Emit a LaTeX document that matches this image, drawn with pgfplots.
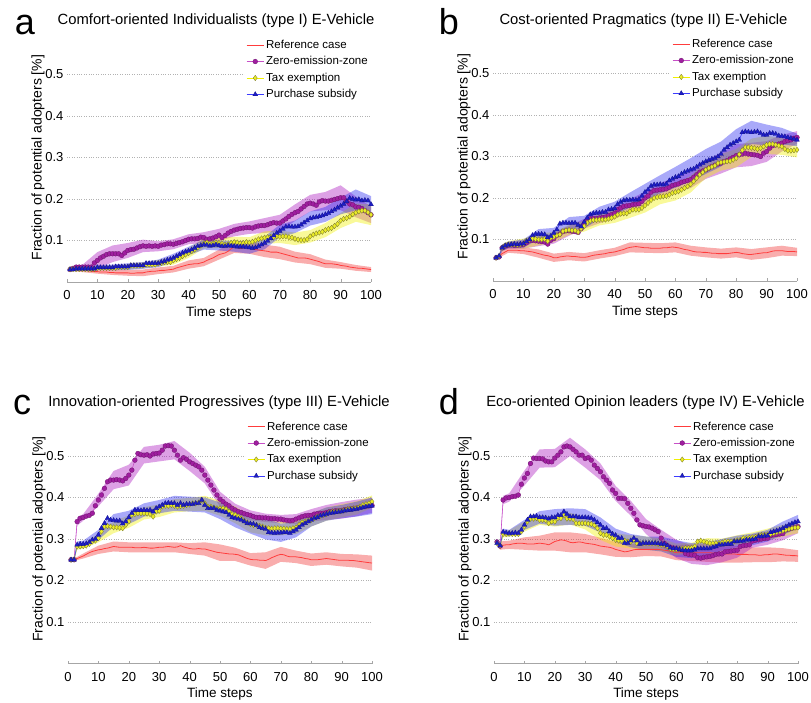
\documentclass[border=0pt]{standalone}
\usepackage{fontspec}
\setmainfont{Liberation Sans}
\usepackage{pgfplots}
\usepackage{pgfplotstable}
\pgfplotsset{compat=1.18}
\usepgfplotslibrary{fillbetween}

\definecolor{refl}{RGB}{255,60,60}
\definecolor{refb}{RGB}{240,50,50}
\definecolor{zezl}{RGB}{200,80,200}
\definecolor{zezm}{RGB}{160,30,160}
\definecolor{zezd}{RGB}{110,20,110}
\definecolor{zezb}{RGB}{170,20,190}
\definecolor{taxl}{RGB}{240,240,0}
\definecolor{taxm}{RGB}{235,235,40}
\definecolor{taxd}{RGB}{120,120,40}
\definecolor{taxb}{RGB}{240,240,0}
\definecolor{subl}{RGB}{60,60,255}
\definecolor{subm}{RGB}{30,30,200}
\definecolor{subd}{RGB}{20,20,140}
\definecolor{subb}{RGB}{40,40,240}

% mean values per time step: r = reference, z = zero-emission-zone, x = tax exemption, s = purchase subsidy
\pgfplotstableread{
t r z x s
1 .030 .030 .031 .030
2 .030 .033 .031 .030
3 .029 .036 .031 .032
4 .029 .036 .031 .032
5 .028 .036 .031 .032
6 .028 .036 .031 .032
7 .027 .036 .031 .032
8 .026 .036 .031 .032
9 .025 .046 .031 .032
10 .025 .052 .034 .035
11 .024 .058 .034 .035
12 .024 .062 .034 .035
13 .024 .066 .034 .035
14 .023 .068 .034 .035
15 .023 .068 .034 .035
16 .022 .068 .034 .037
17 .022 .068 .036 .037
18 .022 .064 .036 .037
19 .022 .070 .036 .037
20 .022 .076 .036 .037
21 .021 .078 .040 .040
22 .021 .079 .040 .040
23 .022 .082 .040 .040
24 .022 .085 .040 .040
25 .022 .087 .040 .040
26 .024 .086 .042 .045
27 .025 .087 .042 .045
28 .026 .086 .042 .045
29 .026 .087 .042 .045
30 .027 .086 .045 .045
31 .028 .089 .046 .048
32 .028 .090 .048 .050
33 .029 .092 .048 .053
34 .030 .092 .048 .055
35 .031 .091 .052 .058
36 .034 .093 .055 .062
37 .036 .095 .058 .066
38 .038 .097 .062 .070
39 .040 .100 .066 .073
40 .042 .103 .070 .075
41 .043 .104 .074 .078
42 .044 .104 .078 .082
43 .044 .105 .083 .086
44 .046 .108 .088 .088
45 .048 .107 .093 .090
46 .052 .103 .095 .089
47 .055 .104 .092 .087
48 .058 .106 .093 .088
49 .062 .109 .095 .090
50 .066 .113 .094 .088
51 .068 .107 .092 .086
52 .070 .112 .090 .086
53 .074 .118 .091 .088
54 .080 .122 .094 .087
55 .085 .125 .096 .086
56 .083 .127 .095 .085
57 .081 .129 .093 .085
58 .082 .130 .094 .085
59 .084 .131 .096 .084
60 .083 .131 .095 .083
61 .080 .130 .097 .082
62 .078 .133 .100 .083
63 .077 .135 .103 .086
64 .076 .136 .105 .090
65 .075 .136 .107 .094
66 .074 .138 .108 .099
67 .072 .141 .109 .105
68 .072 .143 .108 .112
69 .072 .142 .110 .118
70 .070 .142 .109 .123
71 .068 .147 .110 .128
72 .066 .152 .110 .133
73 .064 .158 .108 .134
74 .062 .163 .107 .133
75 .060 .167 .104 .133
76 .058 .170 .102 .134
77 .058 .176 .101 .138
78 .058 .182 .101 .143
79 .057 .188 .103 .148
80 .055 .190 .110 .153
81 .053 .188 .114 .155
82 .051 .185 .117 .156
83 .049 .193 .119 .158
84 .046 .196 .121 .160
85 .044 .195 .125 .163
86 .044 .195 .128 .166
87 .044 .197 .130 .170
88 .043 .199 .135 .174
89 .042 .201 .140 .179
90 .040 .203 .148 .183
91 .039 .203 .152 .188
92 .038 .195 .154 .194
93 .036 .188 .158 .202
94 .035 .186 .163 .200
95 .034 .181 .167 .198
96 .033 .180 .170 .199
97 .033 .177 .172 .196
98 .032 .172 .172 .197
99 .031 .167 .168 .196
100 .030 .162 .162 .187
}\dataA

\pgfplotstableread{
t rl rh zl zh xl xh sl sh
1 .027 .033 .027 .033 .028 .034 .027 .033
5 .024 .032 .031 .041 .027 .035 .028 .036
10 .020 .030 .032 .072 .029 .039 .029 .041
15 .017 .029 .048 .088 .029 .039 .028 .042
20 .015 .029 .058 .094 .030 .042 .029 .045
25 .014 .030 .072 .102 .033 .047 .032 .048
30 .019 .035 .074 .098 .037 .053 .036 .054
35 .023 .039 .079 .103 .042 .062 .048 .068
40 .032 .052 .091 .115 .058 .082 .065 .085
45 .038 .058 .094 .120 .081 .105 .078 .102
50 .054 .078 .098 .128 .082 .106 .076 .100
55 .070 .100 .110 .140 .083 .109 .073 .099
60 .068 .098 .116 .146 .082 .108 .068 .098
65 .060 .090 .118 .154 .092 .122 .079 .109
70 .055 .085 .122 .162 .094 .124 .108 .138
75 .047 .073 .147 .187 .089 .119 .118 .148
80 .043 .067 .170 .210 .095 .125 .136 .170
85 .034 .054 .173 .217 .108 .142 .145 .181
90 .032 .048 .173 .233 .130 .166 .163 .203
95 .027 .041 .156 .206 .145 .189 .173 .223
100 .024 .036 .142 .182 .137 .187 .167 .207
}\bandA

\pgfplotstableread{
t r z x s
1 .056 .056 .056 .056
2 .060 .058 .060 .060
3 .066 .080 .080 .080
4 .070 .084 .086 .085
5 .074 .086 .088 .087
6 .074 .087 .088 .088
7 .074 .086 .088 .089
8 .074 .086 .087 .088
9 .073 .087 .088 .089
10 .073 .088 .090 .090
11 .072 .092 .097 .095
12 .071 .097 .100 .100
13 .070 .098 .102 .110
14 .068 .097 .101 .113
15 .066 .096 .100 .113
16 .064 .095 .100 .113
17 .062 .094 .101 .112
18 .061 .089 .096 .105
19 .059 .098 .104 .108
20 .056 .102 .106 .116
21 .056 .110 .110 .124
22 .058 .113 .112 .138
23 .059 .119 .120 .140
24 .060 .121 .122 .140
25 .060 .121 .123 .139
26 .059 .120 .122 .140
27 .059 .119 .122 .140
28 .058 .117 .118 .135
29 .057 .126 .126 .131
30 .057 .138 .132 .142
31 .058 .148 .140 .152
32 .060 .150 .145 .160
33 .062 .151 .147 .163
34 .063 .150 .147 .164
35 .064 .152 .148 .164
36 .065 .153 .148 .166
37 .066 .154 .148 .166
38 .068 .158 .150 .172
39 .069 .160 .152 .173
40 .070 .163 .155 .175
41 .072 .172 .160 .185
42 .074 .176 .162 .190
43 .076 .180 .163 .194
44 .079 .181 .163 .195
45 .081 .182 .168 .195
46 .082 .184 .172 .196
47 .083 .185 .172 .195
48 .082 .186 .172 .197
49 .081 .192 .176 .205
50 .080 .200 .182 .214
51 .080 .205 .188 .220
52 .079 .214 .195 .229
53 .079 .218 .200 .232
54 .079 .219 .202 .232
55 .079 .220 .203 .233
56 .080 .221 .204 .232
57 .080 .222 .205 .234
58 .081 .226 .208 .242
59 .082 .230 .212 .246
60 .081 .232 .214 .250
61 .080 .234 .216 .252
62 .078 .238 .220 .258
63 .076 .240 .224 .262
64 .075 .242 .228 .265
65 .073 .244 .233 .268
66 .071 .250 .240 .270
67 .070 .256 .248 .275
68 .070 .262 .256 .280
69 .069 .265 .262 .284
70 .069 .268 .268 .288
71 .068 .272 .272 .291
72 .067 .276 .275 .294
73 .067 .279 .278 .296
74 .066 .282 .284 .300
75 .066 .284 .286 .306
76 .066 .288 .287 .316
77 .066 .290 .288 .322
78 .067 .294 .289 .328
79 .068 .298 .292 .332
80 .069 .302 .296 .336
81 .068 .304 .305 .340
82 .066 .306 .315 .358
83 .065 .308 .322 .360
84 .064 .306 .322 .359
85 .064 .305 .321 .358
86 .065 .304 .320 .359
87 .066 .303 .318 .360
88 .067 .300 .320 .356
89 .068 .308 .324 .352
90 .068 .312 .328 .352
91 .070 .320 .330 .356
92 .072 .326 .330 .356
93 .073 .328 .328 .354
94 .073 .330 .326 .350
95 .073 .332 .324 .349
96 .072 .336 .318 .348
97 .071 .338 .314 .346
98 .071 .340 .314 .344
99 .071 .344 .315 .342
100 .070 .346 .316 .340
}\dataB

\pgfplotstableread{
t rl rh zl zh xl xh sl sh
1 .053 .059 .053 .059 .053 .059 .053 .059
2 .056 .064 .055 .061 .056 .064 .056 .064
3 .060 .072 .072 .088 .072 .088 .072 .088
5 .068 .080 .078 .094 .080 .096 .079 .095
10 .065 .081 .078 .098 .078 .102 .080 .100
15 .056 .076 .084 .108 .086 .114 .101 .125
20 .046 .066 .090 .114 .094 .118 .104 .128
25 .050 .070 .109 .133 .111 .135 .124 .154
30 .047 .067 .126 .150 .119 .145 .127 .157
35 .054 .074 .139 .165 .134 .162 .149 .179
40 .060 .080 .149 .177 .140 .170 .159 .191
45 .069 .093 .167 .197 .152 .184 .177 .213
50 .068 .092 .185 .215 .165 .199 .194 .234
55 .067 .091 .204 .236 .185 .221 .211 .255
60 .069 .093 .214 .250 .194 .234 .225 .275
65 .061 .085 .224 .264 .213 .253 .240 .296
70 .057 .081 .246 .290 .248 .288 .258 .318
75 .054 .078 .259 .309 .266 .306 .276 .336
80 .057 .081 .274 .330 .274 .318 .306 .366
85 .051 .077 .277 .333 .299 .343 .330 .386
90 .055 .081 .287 .337 .306 .350 .327 .377
95 .061 .085 .312 .352 .304 .344 .329 .369
100 .060 .080 .331 .361 .298 .334 .325 .355
}\bandB

\pgfplotstableread{
t r z x s
1 .250 .250 .250 .250
2 .251 .250 .251 .250
3 .253 .342 .282 .286
4 .256 .350 .282 .288
5 .259 .352 .283 .288
6 .263 .355 .284 .289
7 .267 .357 .288 .292
8 .270 .362 .294 .298
9 .272 .380 .296 .300
10 .274 .394 .302 .310
11 .275 .406 .318 .326
12 .277 .422 .330 .338
13 .278 .438 .331 .350
14 .280 .442 .330 .346
15 .282 .442 .328 .345
16 .281 .443 .328 .344
17 .280 .442 .327 .344
18 .280 .440 .326 .337
19 .280 .446 .334 .342
20 .280 .454 .342 .352
21 .280 .466 .358 .362
22 .279 .490 .360 .370
23 .279 .506 .362 .370
24 .279 .503 .362 .369
25 .280 .502 .362 .370
26 .279 .503 .361 .369
27 .278 .500 .360 .370
28 .278 .505 .354 .366
29 .279 .506 .366 .374
30 .280 .507 .368 .378
31 .280 .514 .378 .382
32 .281 .524 .380 .386
33 .282 .525 .380 .387
34 .281 .524 .382 .386
35 .280 .514 .380 .386
36 .281 .502 .378 .382
37 .284 .490 .379 .386
38 .281 .496 .380 .382
39 .279 .492 .382 .384
40 .277 .486 .383 .384
41 .276 .482 .386 .384
42 .276 .478 .386 .386
43 .277 .474 .388 .386
44 .276 .466 .394 .394
45 .276 .454 .386 .382
46 .274 .442 .378 .374
47 .272 .430 .378 .374
48 .270 .418 .376 .374
49 .268 .406 .374 .370
50 .267 .396 .374 .368
51 .266 .390 .374 .366
52 .265 .384 .372 .364
53 .264 .380 .366 .358
54 .264 .374 .360 .352
55 .263 .370 .358 .350
56 .262 .366 .354 .348
57 .259 .364 .350 .346
58 .256 .361 .344 .342
59 .253 .359 .340 .338
60 .251 .357 .336 .337
61 .250 .354 .334 .336
62 .250 .352 .334 .333
63 .249 .352 .332 .328
64 .249 .351 .330 .326
65 .248 .351 .327 .324
66 .251 .350 .326 .316
67 .255 .349 .325 .315
68 .258 .349 .326 .314
69 .261 .348 .326 .315
70 .263 .348 .325 .315
71 .262 .346 .325 .316
72 .259 .345 .324 .316
73 .257 .344 .324 .314
74 .257 .345 .326 .318
75 .257 .348 .328 .322
76 .256 .351 .334 .328
77 .255 .354 .340 .334
78 .253 .356 .342 .338
79 .252 .357 .344 .342
80 .250 .357 .346 .346
81 .250 .360 .350 .350
82 .250 .361 .354 .352
83 .251 .362 .356 .356
84 .252 .362 .358 .358
85 .253 .364 .360 .360
86 .252 .366 .364 .362
87 .251 .367 .366 .363
88 .250 .368 .366 .364
89 .249 .368 .367 .365
90 .249 .369 .368 .366
91 .249 .371 .370 .368
92 .249 .372 .372 .369
93 .248 .373 .373 .370
94 .248 .374 .374 .371
95 .247 .375 .375 .372
96 .246 .377 .378 .374
97 .245 .378 .382 .376
98 .244 .379 .384 .378
99 .243 .380 .386 .379
100 .242 .381 .390 .380
}\dataC

\pgfplotstableread{
t rl rh zl zh xl xh sl sh
1 .248 .252 .248 .252 .248 .252 .248 .252
2 .248 .254 .247 .253 .248 .254 .247 .253
3 .249 .257 .332 .352 .274 .290 .278 .294
5 .253 .265 .344 .360 .277 .289 .280 .296
10 .264 .284 .379 .409 .292 .312 .298 .322
15 .270 .294 .420 .464 .314 .342 .330 .360
20 .268 .292 .429 .479 .327 .357 .336 .368
25 .268 .292 .482 .522 .347 .377 .354 .386
30 .268 .292 .487 .527 .353 .383 .362 .394
35 .268 .292 .492 .536 .364 .396 .368 .404
40 .264 .290 .464 .508 .367 .399 .366 .402
45 .260 .292 .434 .474 .368 .404 .364 .400
50 .247 .287 .378 .414 .356 .392 .348 .388
55 .247 .279 .355 .385 .338 .378 .328 .372
60 .236 .266 .345 .369 .316 .356 .313 .361
65 .228 .268 .341 .361 .309 .345 .299 .349
70 .245 .281 .338 .358 .309 .341 .293 .337
75 .242 .272 .336 .360 .312 .344 .304 .340
80 .235 .265 .342 .372 .330 .362 .330 .362
85 .238 .268 .346 .382 .344 .376 .344 .376
90 .234 .264 .349 .389 .352 .384 .350 .382
95 .231 .263 .355 .395 .359 .391 .354 .390
100 .224 .260 .363 .399 .375 .405 .360 .400
}\bandC

\pgfplotstableread{
t r z x s
1 .290 .293 .290 .290
2 .283 .283 .284 .284
3 .285 .394 .312 .317
4 .286 .399 .312 .315
5 .286 .400 .313 .314
6 .288 .402 .312 .314
7 .289 .403 .312 .315
8 .290 .406 .312 .314
9 .290 .432 .318 .322
10 .289 .447 .330 .334
11 .288 .458 .342 .346
12 .288 .482 .349 .354
13 .288 .495 .349 .354
14 .289 .494 .350 .355
15 .290 .494 .346 .352
16 .289 .493 .346 .352
17 .288 .488 .345 .351
18 .286 .486 .338 .349
19 .290 .486 .342 .352
20 .294 .495 .342 .352
21 .296 .502 .350 .357
22 .298 .510 .350 .357
23 .297 .522 .357 .366
24 .295 .524 .349 .360
25 .292 .522 .349 .354
26 .291 .516 .348 .354
27 .292 .510 .338 .354
28 .293 .502 .338 .352
29 .292 .502 .338 .352
30 .290 .494 .338 .352
31 .289 .496 .337 .351
32 .288 .490 .336 .350
33 .287 .478 .333 .346
34 .285 .470 .326 .340
35 .283 .462 .314 .334
36 .282 .450 .310 .326
37 .281 .442 .310 .326
38 .280 .434 .306 .318
39 .278 .418 .302 .312
40 .275 .410 .298 .309
41 .273 .398 .296 .302
42 .271 .398 .296 .302
43 .269 .397 .296 .290
44 .270 .386 .294 .290
45 .272 .374 .293 .296
46 .274 .362 .298 .302
47 .275 .346 .290 .296
48 .275 .334 .290 .288
49 .275 .332 .290 .290
50 .275 .330 .290 .290
51 .275 .329 .290 .290
52 .275 .326 .290 .290
53 .275 .322 .290 .290
54 .275 .318 .288 .289
55 .274 .302 .286 .288
56 .273 .290 .286 .288
57 .272 .284 .282 .284
58 .271 .280 .276 .279
59 .269 .278 .275 .277
60 .267 .276 .275 .277
61 .267 .275 .276 .275
62 .267 .274 .277 .273
63 .267 .265 .278 .272
64 .267 .263 .278 .272
65 .267 .262 .279 .272
66 .267 .261 .282 .274
67 .267 .255 .294 .277
68 .267 .254 .296 .277
69 .267 .256 .294 .277
70 .267 .257 .292 .277
71 .267 .258 .290 .277
72 .266 .260 .290 .280
73 .266 .263 .290 .282
74 .266 .264 .290 .286
75 .265 .264 .291 .286
76 .264 .269 .294 .287
77 .264 .270 .294 .288
78 .264 .271 .294 .288
79 .264 .272 .295 .294
80 .263 .273 .297 .294
81 .263 .282 .298 .295
82 .263 .284 .302 .295
83 .263 .285 .302 .298
84 .262 .286 .303 .298
85 .262 .295 .304 .299
86 .262 .297 .305 .300
87 .261 .298 .308 .306
88 .261 .300 .310 .306
89 .262 .301 .310 .307
90 .262 .302 .311 .308
91 .263 .308 .312 .316
92 .264 .310 .314 .318
93 .264 .311 .316 .320
94 .263 .312 .318 .322
95 .262 .313 .320 .326
96 .261 .322 .322 .330
97 .261 .324 .324 .334
98 .260 .326 .326 .337
99 .260 .328 .327 .340
100 .259 .330 .328 .342
}\dataD

\pgfplotstableread{
t rl rh zl zh xl xh sl sh
1 .286 .294 .290 .296 .287 .293 .287 .293
2 .274 .292 .278 .288 .278 .290 .278 .290
3 .275 .295 .384 .404 .304 .320 .309 .325
5 .276 .296 .390 .410 .305 .321 .306 .322
10 .274 .304 .429 .465 .318 .342 .322 .346
15 .272 .308 .472 .516 .334 .358 .337 .367
20 .272 .316 .473 .517 .330 .354 .332 .372
25 .268 .316 .500 .544 .335 .363 .334 .374
30 .268 .312 .472 .516 .323 .353 .332 .372
35 .263 .303 .442 .482 .298 .330 .316 .352
40 .257 .293 .392 .428 .282 .314 .293 .325
45 .256 .288 .356 .392 .277 .309 .280 .312
50 .259 .291 .312 .348 .274 .306 .274 .306
55 .258 .290 .282 .322 .271 .301 .270 .306
60 .249 .285 .254 .298 .261 .289 .257 .297
65 .247 .287 .240 .284 .267 .291 .254 .290
70 .245 .289 .237 .277 .282 .302 .262 .292
75 .243 .287 .244 .284 .281 .301 .272 .300
80 .243 .283 .255 .291 .285 .309 .280 .308
85 .244 .280 .279 .311 .292 .316 .285 .313
90 .244 .280 .286 .318 .297 .325 .294 .322
95 .246 .278 .297 .329 .306 .334 .310 .342
100 .245 .273 .314 .346 .314 .342 .326 .358
}\bandD

\pgfplotsset{
  panel/.style={
    scale only axis, width=304pt, height=249pt,
    xmin=0, xmax=100, ymin=0, ymax=0.6,
    xtick={0,10,...,100}, ytick={0.1,0.2,0.3,0.4,0.5},
    axis x line*=bottom, axis y line*=left,
    x axis line style={-, gray!70},
    y axis line style={draw=none},
    xtick style={gray!70}, ytick style={draw=none},
    tick align=inside, major tick length=3pt,
    ymajorgrids, major grid style={dotted, gray!60, line width=0.5pt},
    tick label style={font=\fontsize{13}{15}\selectfont},
    xticklabel style={yshift=-5pt},
    /pgf/number format/assume math mode=true,
    yticklabel style={/pgf/number format/fixed, /pgf/number format/precision=1},
    xlabel={Time steps}, ylabel={Fraction of potential adopters [\%]},
    xlabel style={font=\fontsize{13.5}{15}\selectfont},
    ylabel style={font=\fontsize{14}{16}\selectfont, yshift=-6pt},
    legend cell align=left,
    legend style={at={(1,1)}, anchor=north east, yshift=-4pt, draw=none, fill=white,
      font=\fontsize{11.5}{13}\selectfont, row sep=2.6pt, inner sep=1pt},
  },
  refp/.style={refl, line width=0.8pt},
  zezp/.style={zezl, line width=0.6pt, mark=*, mark size=2.4pt,
    mark options={fill=zezm, draw=zezd, line width=0.3pt}},
  taxp/.style={taxl, line width=0.6pt, mark=diamond*, mark size=2.7pt,
    mark options={fill=taxm, draw=taxd, line width=0.3pt}},
  subp/.style={subl, line width=0.6pt, mark=triangle*, mark size=2.8pt,
    mark options={fill=subm, draw=subd, line width=0.3pt}},
}

\newcommand{\band}[4]{%
  \addplot[draw=none, name path=#2, forget plot] table[x=t, y=#2] {#1};
  \addplot[draw=none, name path=#3, forget plot] table[x=t, y=#3] {#1};
  \addplot[fill=#4, fill opacity=0.4, draw=none, forget plot] fill between[of=#2 and #3];
}
\newcommand{\panel}[2]{%
  \band{#2}{rl}{rh}{refb}
  \band{#2}{zl}{zh}{zezb}
  \band{#2}{xl}{xh}{taxb}
  \band{#2}{sl}{sh}{subb}
  \addplot[refp] table[x=t, y=r] {#1}; \addlegendentry{Reference case}
  \addplot[zezp] table[x=t, y=z] {#1}; \addlegendentry{Zero-emission-zone}
  \addplot[taxp] table[x=t, y=x] {#1}; \addlegendentry{Tax exemption}
  \addplot[subp] table[x=t, y=s] {#1}; \addlegendentry{Purchase subsidy}
}

\begin{document}
\begin{tikzpicture}[x=1pt, y=1pt]

\begin{axis}[panel, at={(67pt,420pt)}]
\panel{\dataA}{\bandA}
\end{axis}

\begin{axis}[panel, at={(493pt,421pt)}]
\panel{\dataB}{\bandB}
\end{axis}

\begin{axis}[panel, at={(68pt,38.5pt)}]
\panel{\dataC}{\bandC}
\end{axis}

\begin{axis}[panel, at={(494pt,38.5pt)}]
\panel{\dataD}{\bandD}
\end{axis}

\begin{scope}[every node/.style={font=\fontsize{14.8}{16}\selectfont, anchor=base}]
\node at (216,677) {Comfort-oriented Individualists (type I) E-Vehicle};
\node at (643.5,677) {Cost-oriented Pragmatics (type II) E-Vehicle};
\node at (219,295.3) {Innovation-oriented Progressives (type III) E-Vehicle};
\node at (645.5,295.3) {Eco-oriented Opinion leaders (type IV) E-Vehicle};
\end{scope}

\begin{scope}[every node/.style={font=\fontsize{36}{36}\selectfont, anchor=base}]
\node at (25,667) {a};
\node at (449,667) {b};
\node at (22,287) {c};
\node at (449,287) {d};
\end{scope}

\pgfresetboundingbox
\path[use as bounding box] (0,0) rectangle (811,702);
\end{tikzpicture}
\end{document}
